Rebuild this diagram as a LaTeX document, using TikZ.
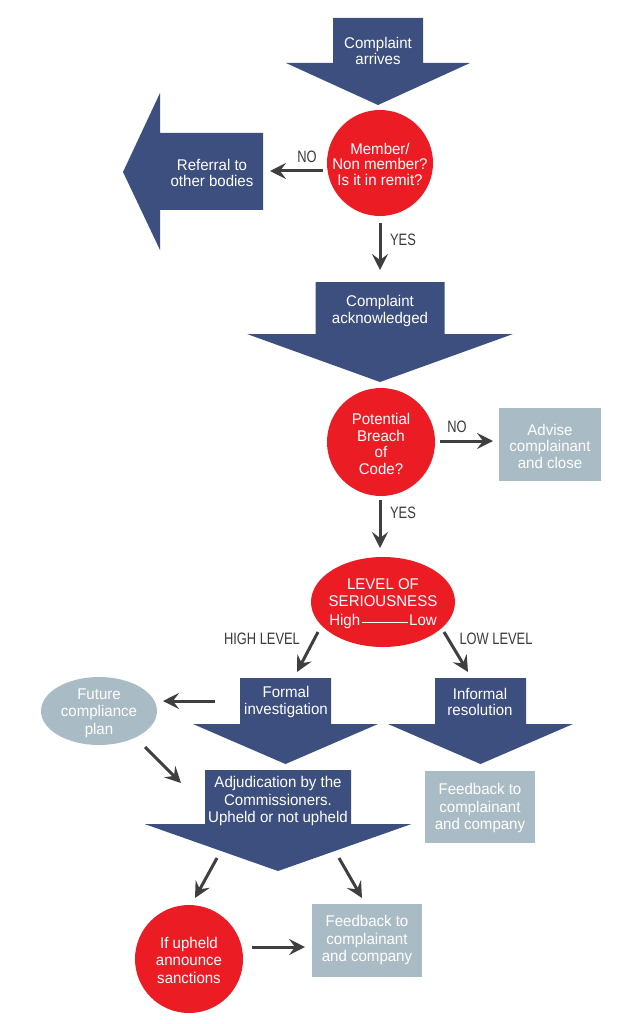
\documentclass[tikz,border=0pt]{standalone}
\usepackage{fontspec}
\setmainfont{Liberation Sans}[FakeStretch=0.97]
\newfontfamily\lblfont{Liberation Sans}[FakeStretch=0.78]
\usetikzlibrary{arrows.meta,shapes.geometric}
\definecolor{navy}{HTML}{3C4F7E}
\definecolor{cred}{HTML}{EC1C24}
\definecolor{pale}{HTML}{A9BCC6}
\definecolor{conngray}{HTML}{3F3F3F}
\definecolor{lblgray}{HTML}{3A3A3A}
% cx, shaft half width, top, shaft bottom, wing half width, tip
\newcommand\dnarrow[6]{\fill[navy] (#1-#2,#3) -- (#1+#2,#3) -- (#1+#2,#4) -- (#1+#5,#4) -- (#1,#6) -- (#1-#5,#4) -- (#1-#2,#4) -- cycle;}
\tikzset{
  txt/.style={text=white, font=\fontsize{15.5}{16.5}\selectfont, align=center, inner sep=0pt},
  txtw/.style={txt, font=\fontsize{15.5}{17.5}\selectfont},
  lbl/.style={text=lblgray, font=\lblfont\fontsize{16.5}{16.5}\selectfont, inner sep=0pt},
  redc/.style={circle, fill=cred, inner sep=0pt},
  palebox/.style={rectangle, fill=pale, inner sep=0pt},
  conn/.style={draw=conngray, line width=3pt, -{Stealth[length=16pt,width=16pt,inset=6pt]}}
}
\begin{document}
\begin{tikzpicture}[x=1pt,y=-1pt]
\fill[white] (0,0) rectangle (641,1024);
\useasboundingbox (0,0) rectangle (641,1024);

% --- Complaint arrives
\dnarrow{378}{45}{18}{63}{92}{105}
\node[txt] (arrives) at (378,51) {Complaint\\arrives};

% --- Referral to other bodies (left arrow)
\fill[navy] (263,133) -- (263,210) -- (160,210) -- (160,250) -- (123,172) -- (160,93) -- (160,133) -- cycle;
\node[txt] (referral) at (212,173) {Referral to\\other bodies};

% --- Member circle
\node[redc, minimum size=106pt] (remit) at (380,163) {};
\node[txt, font=\fontsize{15.5}{15.5}\selectfont] (remitt) at (380,164) {Member/\\Non member?\\Is it in remit?};

\coordinate (no1s) at (323,171); \coordinate (no1e) at (270,171);
\draw[conn] (no1s) -- (no1e);
\node[lbl] (no1) at (307,157) {NO};

\coordinate (yes1s) at (380,223); \coordinate (yes1e) at (380,270);
\draw[conn] (yes1s) -- (yes1e);
\node[lbl] (yes1) at (403,240) {YES};

% --- Complaint acknowledged
\dnarrow{380}{64.5}{282}{334}{133}{382}
\node[txt] (ack) at (380,311) {Complaint\\acknowledged};

% --- Potential breach circle
\node[redc, minimum size=108pt] (breach) at (381,442) {};
\node[txt] (breacht) at (381,444) {Potential\\Breach\\of\\Code?};

\coordinate (no2s) at (440,441); \coordinate (no2e) at (493,441);
\draw[conn] (no2s) -- (no2e);
\node[lbl] (no2) at (457,427) {NO};

\node[palebox, minimum width=102pt, minimum height=73pt] (advise) at (550,444.5) {};
\node[txt] (adviset) at (550,446) {Advise\\complainant\\and close};

\coordinate (yes2s) at (380,500); \coordinate (yes2e) at (380,548);
\draw[conn] (yes2s) -- (yes2e);
\node[lbl] (yes2) at (403,513) {YES};

% --- Level of seriousness
\node[ellipse, fill=cred, minimum width=144pt, minimum height=90pt, inner sep=0pt] (level) at (383,602) {};
\node[txt] (levelt) at (383,604) {LEVEL OF\\SERIOUSNESS\\[3pt]High\kern1.5pt\rule[3pt]{46pt}{0.9pt}\kern1.5pt Low};

\coordinate (hls) at (318,632); \coordinate (hle) at (297,672);
\draw[conn] (hls) -- (hle);
\node[lbl] (hl) at (262,639) {HIGH LEVEL};

\coordinate (lls) at (444,632); \coordinate (lle) at (468,672);
\draw[conn] (lls) -- (lle);
\node[lbl] (ll) at (496,639) {LOW LEVEL};

% --- Formal / Informal
\dnarrow{285.5}{45.5}{678}{724}{92.5}{764}
\node[txt] (formal) at (286,702) {Formal\\investigation};
\dnarrow{480.5}{45.5}{678}{724}{92.5}{764}
\node[txt] (informal) at (480,702) {Informal\\resolution};

% --- Future compliance plan
\node[ellipse, fill=pale, minimum width=116pt, minimum height=68pt, inner sep=0pt] (future) at (99,711) {};
\node[txtw] (futuret) at (99,713) {Future\\compliance\\plan};

\coordinate (fcs) at (215,701); \coordinate (fce) at (163,701);
\draw[conn] (fcs) -- (fce);
\coordinate (fas) at (145,747); \coordinate (fae) at (181,783);
\draw[conn] (fas) -- (fae);

% --- Adjudication
\dnarrow{278}{73}{770}{824}{133.5}{871}
\node[txtw] (adj) at (278,801) {Adjudication by the\\Commissioners.\\Upheld or not upheld};

\node[palebox, minimum width=110pt, minimum height=72pt] (fb1) at (480,807) {};
\node[txtw] (fb1t) at (480,808) {Feedback to\\complainant\\and company};

\coordinate (a1s) at (217,858); \coordinate (a1e) at (195,898);
\draw[conn] (a1s) -- (a1e);
\coordinate (a2s) at (339,858); \coordinate (a2e) at (362,898);
\draw[conn] (a2s) -- (a2e);

% --- Sanctions
\node[redc, minimum size=108pt] (sanct) at (189,959) {};
\node[txtw] (sanctt) at (189,960) {If upheld\\announce\\sanctions};

\coordinate (s1s) at (252,947); \coordinate (s1e) at (305,947);
\draw[conn] (s1s) -- (s1e);

\node[palebox, minimum width=110pt, minimum height=73pt] (fb2) at (367,940.5) {};
\node[txtw] (fb2t) at (367,940) {Feedback to\\complainant\\and company};
\end{tikzpicture}
\end{document}
